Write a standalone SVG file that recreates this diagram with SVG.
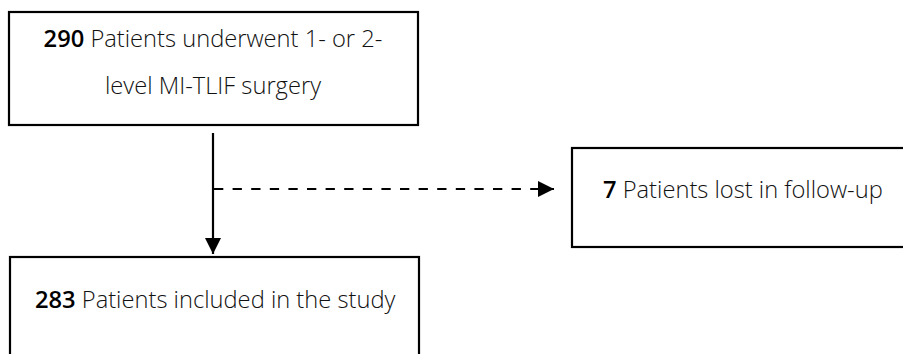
<svg xmlns="http://www.w3.org/2000/svg" width="903" height="354" viewBox="0 0 903 354">
<style>
.box{fill:#fff;stroke:#000;stroke-width:2.2}
.t{font-family:"Open Sans","Liberation Sans",sans-serif;font-size:23.7px;font-weight:300;fill:#111}
.b{font-weight:600;fill:#000}
.line{stroke:#000;stroke-width:2.2;fill:none}
.dash{stroke-dasharray:9.3 9.3}
</style>
<defs>
<marker id="ah" viewBox="0 0 16 16" refX="16" refY="8" markerWidth="16" markerHeight="16" markerUnits="userSpaceOnUse" orient="auto">
<path d="M0,0 L16,8 L0,16 Z" fill="#000"/>
</marker>
</defs>
<rect width="903" height="354" fill="#fff"/>
<g id="connectors">
<line class="line" x1="213" y1="133" x2="213" y2="254" marker-end="url(#ah)"/>
<line class="line dash" x1="214" y1="189" x2="554" y2="189" marker-end="url(#ah)"/>
</g>
<g id="n1">
<rect class="box" x="9" y="12" width="409" height="113"/>
<text class="t" x="213" y="47" text-anchor="middle"><tspan class="b">290</tspan> Patients underwent 1- or 2-</text>
<text class="t" x="213" y="94" text-anchor="middle">level MI-TLIF surgery</text>
</g>
<g id="n2">
<rect class="box" x="572" y="148" width="340" height="99"/>
<text class="t" x="603" y="198"><tspan class="b">7</tspan> Patients lost in follow-up</text>
</g>
<g id="n3">
<rect class="box" x="10" y="257" width="409" height="110"/>
<text class="t" x="35" y="308"><tspan class="b">283</tspan> Patients included in the study</text>
</g>
</svg>
